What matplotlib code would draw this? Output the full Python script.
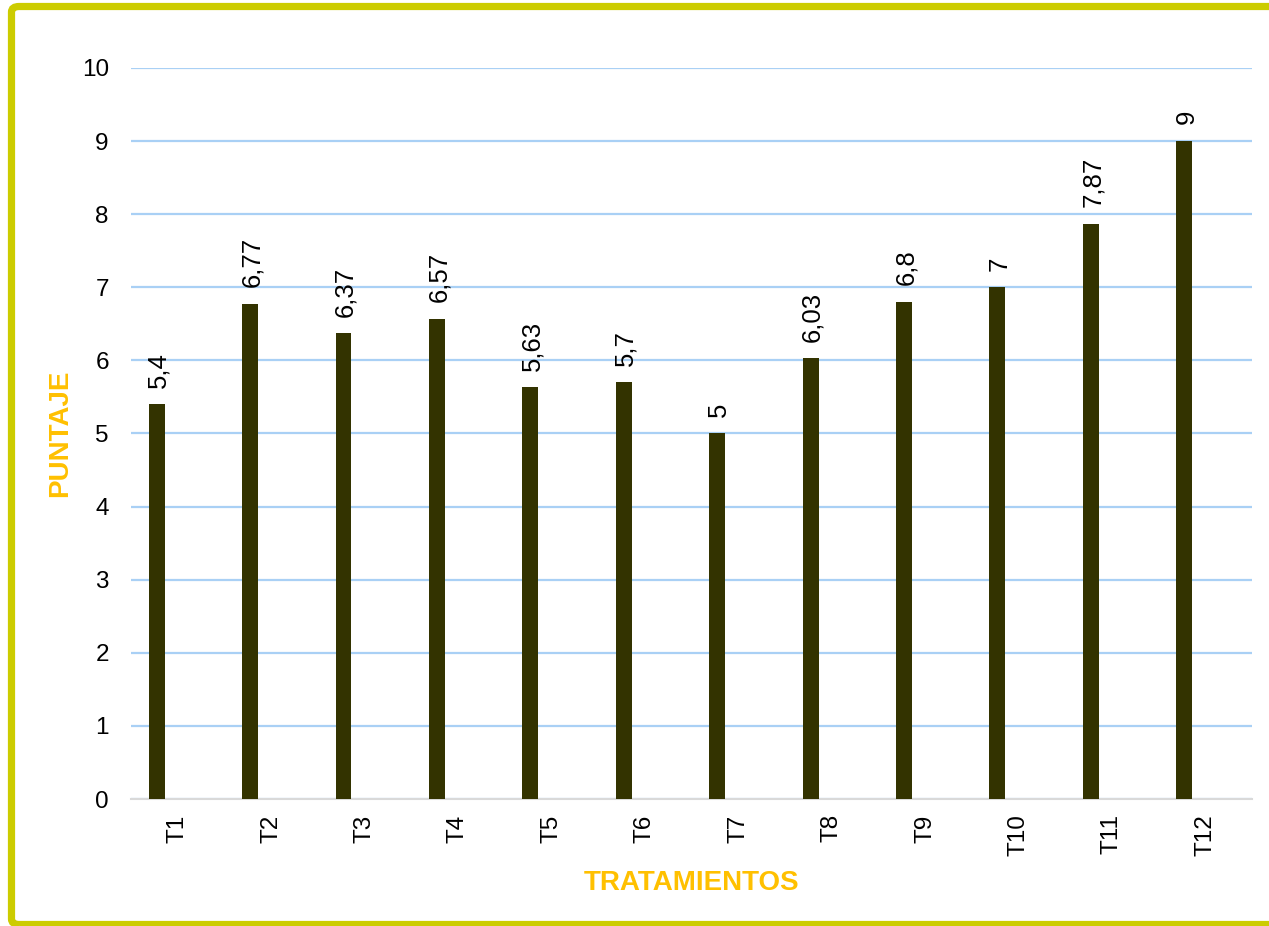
import matplotlib.pyplot as plt
from matplotlib.patches import FancyBboxPatch
import numpy as np

plt.rcParams['font.family'] = ['Liberation Sans', 'DejaVu Sans']

categories = ['T1', 'T2', 'T3', 'T4', 'T5', 'T6', 'T7', 'T8', 'T9', 'T10', 'T11', 'T12']
puntaje = [5.4, 6.77, 6.37, 6.57, 5.63, 5.7, 5.0, 6.03, 6.8, 7.0, 7.87, 9.0]
labels = ['5,4', '6,77', '6,37', '6,57', '5,63', '5,7', '5', '6,03', '6,8', '7', '7,87', '9']

fig = plt.figure(figsize=(12.69, 9.26), dpi=100)

# outer frame (right edge runs off the picture)
frame = FancyBboxPatch((11.5 / 1269, 1.5 / 926), 1.2, 918 / 926,
                       boxstyle='round,pad=0,rounding_size=0.006',
                       transform=fig.transFigure, fill=False,
                       edgecolor='#CCCC00', linewidth=5.2, clip_on=False)
fig.patches.append(frame)

ax = fig.add_axes([131 / 1269, 1 - 799 / 926, (1252 - 131) / 1269, (799 - 68) / 926])

x = np.arange(len(categories))
ax.bar(x - 0.225, puntaje, width=0.17, color='#333300', zorder=3)

for xi, v, lab in zip(x, puntaje, labels):
    ax.annotate(lab, (xi - 0.225, v), xytext=(1.5, 12), textcoords='offset points',
                rotation=90, ha='center', va='bottom', fontsize=18.5, color='black')

ax.set_xlim(-0.5, len(categories) - 0.5)
ax.set_ylim(0, 10)
ax.set_yticks(range(0, 11))
ax.set_xticks(x)
ax.set_xticklabels(categories, rotation=90, fontsize=17.5)
ax.tick_params(axis='y', labelsize=17.5, length=0, pad=16)
ax.tick_params(axis='x', length=0, pad=11)

ax.yaxis.grid(True, color='#A9D0F5', linewidth=1.6, zorder=0)
ax.set_axisbelow(True)
for s in ['top', 'right', 'left']:
    ax.spines[s].set_visible(False)
ax.spines['bottom'].set_color('#D9D9D9')
ax.spines['bottom'].set_linewidth(1.5)

ax.set_ylabel('PUNTAJE', color='#FFC000', fontsize=20, fontweight='bold', labelpad=6)
ax.set_xlabel('TRATAMIENTOS', color='#FFC000', fontsize=20, fontweight='bold', labelpad=10)

fig.savefig('out.png', dpi=100)
